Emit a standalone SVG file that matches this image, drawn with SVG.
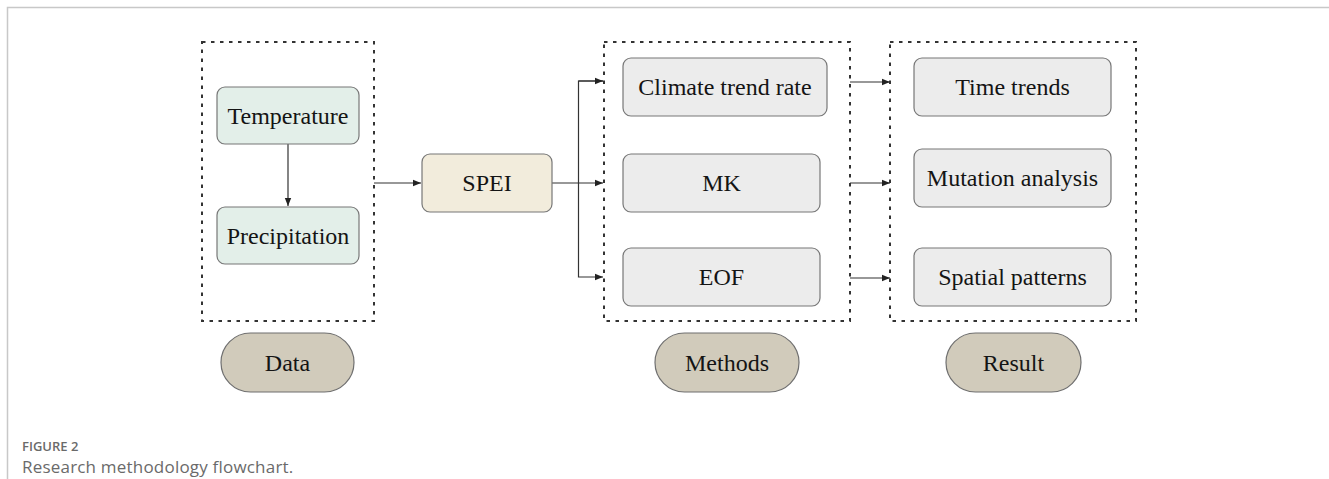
<svg xmlns="http://www.w3.org/2000/svg" width="1329" height="479" viewBox="0 0 1329 479">
<style>
.frame{stroke:#c8c8c8;stroke-width:1.5;fill:none}
.group{fill:none;stroke:#333;stroke-width:2;stroke-dasharray:3.5 5.5}
.box{stroke:#777;stroke-width:1.2}
.green{fill:#e3efe9}
.beige{fill:#f2ecdc}
.gray{fill:#ececec}
.pill{fill:#d1cbbb;stroke:#6f6f6f;stroke-width:1.2}
.lbl{font-family:"Liberation Serif","Times New Roman",serif;font-size:24px;fill:#141414;text-anchor:middle}
.conn{fill:none;stroke:#333;stroke-width:1.2}
.cap1{font-family:"Open Sans","Noto Sans",sans-serif;font-size:13px;font-weight:600;fill:#6a6a6a}
.cap2{font-family:"Open Sans","Noto Sans",sans-serif;font-size:17px;letter-spacing:0.2px;fill:#6a6a6a}
</style>
<defs>
<marker id="ah" viewBox="0 0 10 10" refX="10" refY="5" markerWidth="8" markerHeight="8" markerUnits="userSpaceOnUse" orient="auto">
<path d="M0,1 L10,5 L0,9 Z" fill="#222"/>
</marker>
</defs>
<rect width="1329" height="479" fill="#fff"/>
<path class="frame" d="M7.5,479 V7.5 H1329"/>

<g id="group-data"><rect class="group" x="202" y="42" width="172" height="279"/></g>
<g id="group-methods"><rect class="group" x="604" y="42" width="246" height="279"/></g>
<g id="group-result"><rect class="group" x="890" y="42" width="246" height="279"/></g>

<g id="connectors">
<line class="conn" x1="288" y1="144" x2="288" y2="206" marker-end="url(#ah)"/>
<line class="conn" x1="374" y1="183" x2="421" y2="183" marker-end="url(#ah)"/>
<line class="conn" x1="552" y1="183" x2="603" y2="183" marker-end="url(#ah)"/>
<path class="conn" d="M603,81 H578.5 V277 H603" marker-end="url(#ah)"/>
<line class="conn" x1="578.5" y1="81" x2="603" y2="81" marker-end="url(#ah)"/>
<line class="conn" x1="850" y1="82" x2="890" y2="82" marker-end="url(#ah)"/>
<line class="conn" x1="850" y1="183" x2="890" y2="183" marker-end="url(#ah)"/>
<line class="conn" x1="850" y1="278" x2="890" y2="278" marker-end="url(#ah)"/>
</g>

<g id="temperature"><rect class="box green" x="217" y="87" width="142" height="57" rx="8"/><text class="lbl" x="288" y="123.5">Temperature</text></g>
<g id="precipitation"><rect class="box green" x="217" y="207" width="142" height="57" rx="8"/><text class="lbl" x="288" y="243.5">Precipitation</text></g>
<g id="spei"><rect class="box beige" x="422" y="154" width="130" height="58" rx="8"/><text class="lbl" x="487" y="191">SPEI</text></g>
<g id="climate"><rect class="box gray" x="623" y="58" width="204" height="58" rx="8"/><text class="lbl" x="725" y="95">Climate trend rate</text></g>
<g id="mk"><rect class="box gray" x="623" y="154" width="197" height="58" rx="8"/><text class="lbl" x="721.5" y="191">MK</text></g>
<g id="eof"><rect class="box gray" x="623" y="248" width="197" height="58" rx="8"/><text class="lbl" x="721.5" y="285">EOF</text></g>
<g id="time-trends"><rect class="box gray" x="914" y="58" width="197" height="58" rx="8"/><text class="lbl" x="1012.5" y="95">Time trends</text></g>
<g id="mutation"><rect class="box gray" x="914" y="149" width="197" height="58" rx="8"/><text class="lbl" x="1012.5" y="186">Mutation analysis</text></g>
<g id="spatial"><rect class="box gray" x="914" y="248" width="197" height="58" rx="8"/><text class="lbl" x="1012.5" y="285">Spatial patterns</text></g>
<g id="data"><rect class="pill" x="221" y="333" width="133" height="59" rx="29.5"/><text class="lbl" x="287.5" y="370.5">Data</text></g>
<g id="methods"><rect class="pill" x="655" y="333" width="144" height="59" rx="29.5"/><text class="lbl" x="727" y="370.5">Methods</text></g>
<g id="result"><rect class="pill" x="946" y="333" width="135" height="59" rx="29.5"/><text class="lbl" x="1013.5" y="370.5">Result</text></g>

<text class="cap1" x="22" y="451">FIGURE 2</text>
<text class="cap2" x="22" y="473">Research methodology flowchart.</text>
</svg>
